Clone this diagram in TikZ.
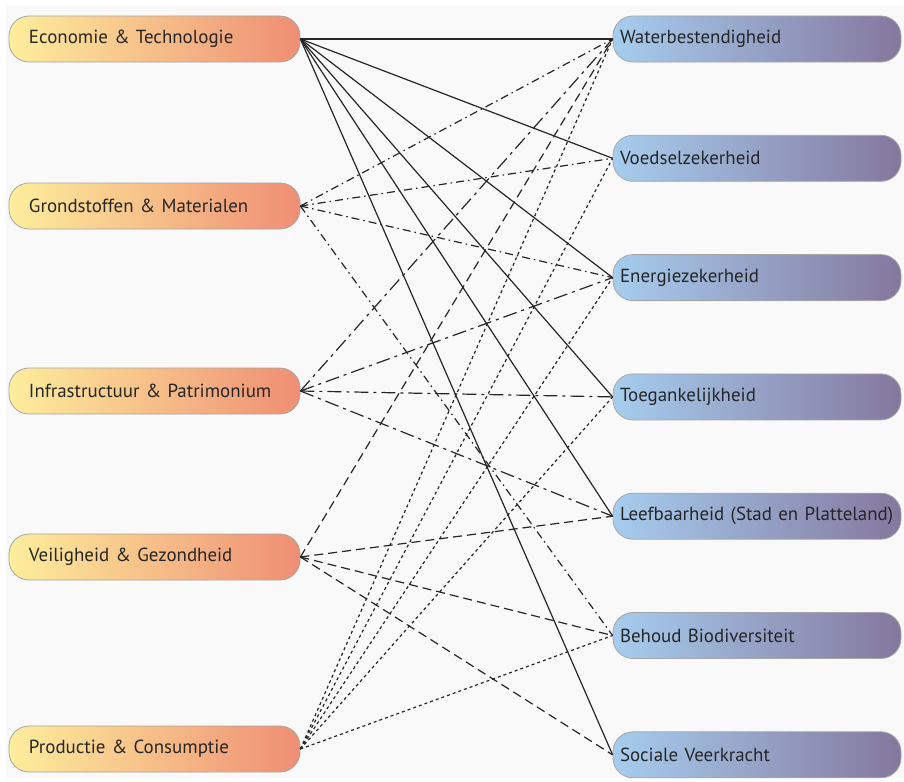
\documentclass[tikz,border=0pt]{standalone}
\usepackage{fontspec}
\setmainfont{PT Sans}
\usetikzlibrary{positioning}

\definecolor{sectoryellow}{HTML}{FDEE9C}
\definecolor{sectorsalmon}{HTML}{EF8E74}
\definecolor{goalblue}{HTML}{A6CDEE}
\definecolor{goalpurple}{HTML}{85779E}
\definecolor{bggray}{HTML}{F9F9F9}

\begin{document}
\begin{tikzpicture}[
    x=1bp, y=-1bp, node distance=72.5bp,
    font=\fontsize{19}{22}\selectfont,
    pill/.style={draw=gray!70, line width=0.8bp, rounded corners=20bp, minimum height=46bp, text=black!85},
    sectorbox/.style={pill, left color=sectoryellow, right color=sectorsalmon, text width=251bp, inner xsep=20bp},
    goalbox/.style={pill, left color=goalblue, right color=goalpurple, text width=274bp, inner xsep=7bp},
    link/.style={line width=1.2bp, black!85},
    ecolink/.style={link},
    grondlink/.style={link, dash pattern=on 8bp off 4bp on 1.5bp off 4bp},
    infralink/.style={link, dash pattern=on 14bp off 5bp on 3bp off 5bp},
    veiliglink/.style={link, dash pattern=on 9bp off 5bp},
    prodlink/.style={link, dash pattern=on 3bp off 3bp}
]

    \useasboundingbox (0,0) rectangle (904,782);
    \fill[bggray] (6,5) rectangle (904,778);

    % Sectors (left column)
    \node[sectorbox] (eco)    at (154.5,39)  {Economie \& Technologie};
    \node[sectorbox] (grond)  at (154.5,206) {Grondstoffen \& Materialen};
    \node[sectorbox] (infra)  at (154.5,391) {Infrastructuur \& Patrimonium};
    \node[sectorbox] (veilig) at (154.5,557) {Veiligheid \& Gezondheid};
    \node[sectorbox] (prod)   at (154.5,749) {Productie \& Consumptie};

    % Goals (right column)
    \node[goalbox] (water) at (757,39) {Waterbestendigheid};
    \node[goalbox, below=of water]    (voedsel)  {Voedselzekerheid};
    \node[goalbox, below=of voedsel]  (energie)  {Energiezekerheid};
    \node[goalbox, below=of energie]  (toegang)  {Toegankelijkheid};
    \node[goalbox, below=of toegang]  (leef)     {Leefbaarheid (Stad en Platteland)};
    \node[goalbox, below=of leef]     (bio)      {Behoud Biodiversiteit};
    \node[goalbox, below=of bio]      (sociaal)  {Sociale Veerkracht};

    % Links
    \draw[ecolink] (eco.east) edge (water.west) edge (voedsel.west) edge (energie.west)
        edge (toegang.west) edge (leef.west) edge (sociaal.west);
    \draw[grondlink] (grond.east) edge (water.west) edge (voedsel.west) edge (energie.west)
        edge (bio.west);
    \draw[infralink] (infra.east) edge (water.west) edge (energie.west) edge (toegang.west)
        edge (leef.west);
    \draw[veiliglink] (veilig.east) edge (water.west) edge (leef.west) edge (bio.west)
        edge (sociaal.west);
    \draw[prodlink] (prod.east) edge (water.west) edge (voedsel.west) edge (energie.west)
        edge (toegang.west) edge (bio.west);

\end{tikzpicture}
\end{document}
